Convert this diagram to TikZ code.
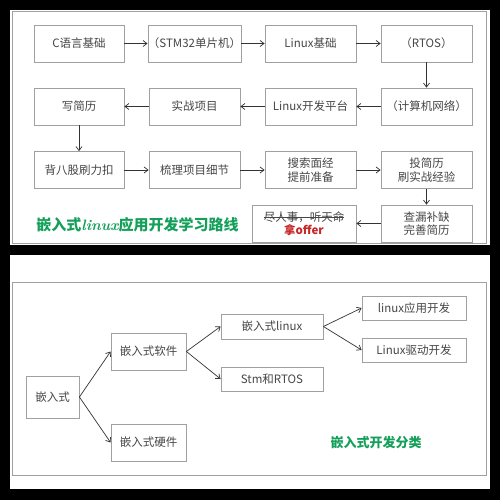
\documentclass[tikz,border=0pt]{standalone}
\usepackage{fontspec}
\usepackage{xcolor}
\usetikzlibrary{arrows.meta}
\newfontfamily\cjk{Noto Sans CJK SC}
\newcommand\strk[1]{\setbox0\hbox{#1}\rlap{\rule[0.3em]{\wd0}{0.6pt}}\box0}
\definecolor{boxgray}{RGB}{160,160,160}
\definecolor{txtgray}{RGB}{70,70,70}
\definecolor{titlegreen}{RGB}{20,160,90}
\definecolor{offerred}{RGB}{200,40,40}
\tikzset{box/.style = {draw=boxgray, line width=0.8, fill=white, text=txtgray, align=center, inner sep=0, font=\cjk\fontsize{11.5}{13.5}\selectfont}}
\tikzset{arr/.style = {-{Straight Barb[length=4pt,width=6pt]}, line width=0.7, draw=black!80}}
\tikzset{title/.style = {text=titlegreen, inner sep=0, font=\cjk\bfseries\fontsize{15}{17}\selectfont}}

\begin{document}
\begin{tikzpicture}[x=1pt,y=-1pt]
            \useasboundingbox (0,0) rectangle (500,500);
            \fill [black] (0,0) rectangle (500,500);
            \fill [white] (10,10) rectangle (490,245);
            \draw [boxgray, line width=0.8] (12,11) rectangle (486,243);
            \fill [white] (10,255) rectangle (490,489);
            \draw [boxgray, line width=0.8] (12,282) rectangle (486,475);
            \node [box, minimum width=90, minimum height=37] (clang) at (79,43.5) {C语言基础};
            \node [box, minimum width=91, minimum height=37] (stm) at (194.5,43.5) {（STM32单片机）};
            \node [box, minimum width=91, minimum height=37] (linux) at (310.5,43.5) {Linux基础};
            \node [box, minimum width=91, minimum height=37] (rtos) at (426.5,43.5) {（RTOS）};
            \node [box, minimum width=91, minimum height=37] (net) at (426.5,106.5) {（计算机网络）};
            \node [box, minimum width=91, minimum height=37] (plat) at (310.5,106.5) {Linux开发平台};
            \node [box, minimum width=91, minimum height=37] (proj) at (194.5,106.5) {实战项目};
            \node [box, minimum width=90, minimum height=37] (cv) at (79,106.5) {写简历};
            \node [box, minimum width=90, minimum height=37] (bagu) at (79,170) {背八股刷力扣};
            \node [box, minimum width=91, minimum height=37] (detail) at (194.5,170) {梳理项目细节};
            \node [box, minimum width=91, minimum height=37] (prep) at (310.5,170) {搜索面经\\提前准备};
            \node [box, minimum width=91, minimum height=37] (apply) at (426.5,170) {投简历\\刷实战经验};
            \node [box, minimum width=91, minimum height=37] (fix) at (426.5,223.5) {查漏补缺\\完善简历};
            \node [box, minimum width=104, minimum height=37] (offer) at (304,223.5) {\strk{尽人事，听天命}\\{\color{offerred}\bfseries 拿offer}};
            \draw [arr] (clang)--(stm);
            \draw [arr] (stm)--(linux);
            \draw [arr] (linux)--(rtos);
            \draw [arr] (rtos)--(net);
            \draw [arr] (net)--(plat);
            \draw [arr] (plat)--(proj);
            \draw [arr] (proj)--(cv);
            \draw [arr] (cv)--(bagu);
            \draw [arr] (bagu)--(detail);
            \draw [arr] (detail)--(prep);
            \draw [arr] (prep)--(apply);
            \draw [arr] (apply)--(fix);
            \draw [arr] (fix)--(offer);
            \node [title] (roadmap) at (137.5,225) {嵌入式{\normalfont\itshape\bfseries linux}应用开发学习路线};
            \node [box, minimum width=53, minimum height=42] (embed) at (52.5,397) {嵌入式};
            \node [box, minimum width=75, minimum height=37] (soft) at (148.5,351.5) {嵌入式软件};
            \node [box, minimum width=75, minimum height=37] (hard) at (148.5,442.5) {嵌入式硬件};
            \node [box, minimum width=102, minimum height=25] (elinux) at (272,326.5) {嵌入式linux};
            \node [box, minimum width=102, minimum height=24] (stmrtos) at (272,379) {Stm和RTOS};
            \node [box, minimum width=104, minimum height=24] (app) at (414,308) {linux应用开发};
            \node [box, minimum width=104, minimum height=24] (drv) at (414,350) {Linux驱动开发};
            \draw [arr] (embed.east)--(soft.west);
            \draw [arr] (embed.east)--(hard.west);
            \draw [arr] (soft.east)--(elinux.west);
            \draw [arr] (soft.east)--(stmrtos.west);
            \draw [arr] (elinux.east)--(app.west);
            \draw [arr] (elinux.east)--(drv.west);
            \node [title, font=\cjk\bfseries\fontsize{13}{15}\selectfont] (classes) at (376,443) {嵌入式开发分类};
        \end{tikzpicture}
\end{document}
